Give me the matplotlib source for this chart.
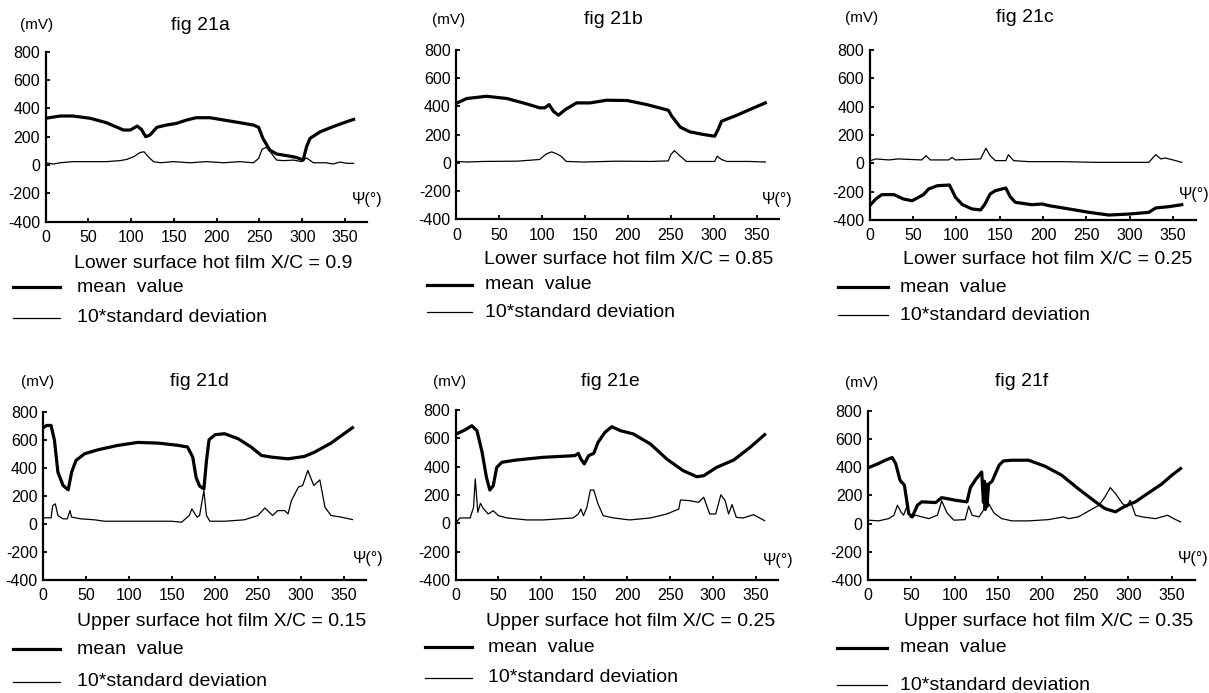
import matplotlib

matplotlib.use("Agg")
import matplotlib.pyplot as plt
from matplotlib.lines import Line2D

plt.rcParams["font.family"] = ["Liberation Sans", "DejaVu Sans"]
plt.rcParams["axes.unicode_minus"] = False

# ---- data (psi in degrees, signal in mV) ----
a_mean_psi = [0, 17, 32, 52, 71, 91, 99, 107, 112, 117, 122, 130, 141, 153, 165, 176, 192, 208, 227,
              243, 249, 254, 262, 270, 282, 293, 301, 305, 309, 321, 336, 352, 360]
a_mean_mv = [330, 346, 346, 330, 299, 247, 247, 275, 252, 200, 212, 266, 282, 294, 318, 334, 334, 318,
             299, 282, 266, 188, 106, 78, 66, 54, 35, 129, 188, 235, 271, 306, 322]
a_std_psi = [0, 9, 17, 32, 71, 87, 95, 103, 110, 115, 120, 126, 134, 149, 169, 188, 208, 227, 243, 249,
             253, 258, 264, 270, 278, 290, 299, 305, 313, 328, 336, 344, 352, 360]
a_std_mv = [16, 7, 16, 24, 24, 31, 40, 59, 87, 94, 59, 24, 16, 24, 16, 24, 16, 24, 16, 47, 111, 125, 82,
            35, 31, 35, 24, 50, 16, 16, 7, 21, 12, 12]

b_mean_psi = [1, 12, 35, 59, 82, 97, 103, 108, 113, 119, 127, 140, 156, 175, 199, 222, 247, 251, 261,
              272, 288, 301, 305, 309, 327, 342, 360]
b_mean_mv = [425, 456, 472, 456, 418, 390, 390, 413, 366, 338, 378, 425, 425, 444, 442, 413, 373, 331,
             253, 220, 201, 189, 236, 295, 338, 378, 425]
b_std_psi = [1, 12, 31, 71, 97, 105, 111, 117, 122, 128, 148, 187, 226, 247, 250, 254, 261, 268, 288,
             301, 304, 309, 315, 342, 360]
b_std_mv = [10, 6, 10, 12, 24, 64, 78, 64, 47, 10, 6, 12, 10, 14, 59, 87, 47, 10, 10, 10, 47, 24, 10,
            10, 6]

c_mean_psi = [1, 7, 14, 28, 39, 49, 62, 68, 78, 92, 99, 107, 118, 128, 133, 139, 145, 157, 162, 168,
              187, 199, 207, 230, 253, 276, 299, 322, 330, 345, 360]
c_mean_mv = [-292, -252, -221, -221, -252, -264, -221, -181, -158, -153, -240, -292, -322, -329, -287,
             -216, -193, -174, -235, -275, -292, -287, -299, -322, -346, -365, -358, -346, -315, -306,
             -292]
c_std_psi = [1, 7, 22, 33, 60, 65, 70, 91, 95, 99, 128, 134, 139, 145, 157, 160, 166, 183, 222, 260, 322,
             330, 336, 341, 353, 360]
c_std_mv = [19, 31, 24, 31, 24, 54, 24, 24, 42, 24, 31, 106, 54, 19, 19, 61, 19, 12, 12, 7, 7, 61, 31,
            38, 19, 7]

d_mean_psi = [1, 4, 9, 13, 17, 23, 29, 33, 38, 48, 64, 87, 110, 134, 157, 168, 174, 178, 182, 187, 190,
              193, 200, 211, 227, 242, 254, 266, 285, 304, 316, 335, 360]
d_mean_mv = [690, 702, 702, 595, 369, 274, 243, 369, 452, 500, 529, 560, 581, 576, 560, 548, 476, 330,
             270, 250, 450, 600, 636, 643, 607, 548, 488, 476, 464, 481, 512, 576, 686]
d_std_psi = [1, 9, 11, 14, 17, 23, 28, 31, 33, 44, 60, 71, 110, 149, 161, 170, 173, 179, 182, 185, 187,
             190, 194, 211, 234, 250, 258, 267, 273, 281, 285, 289, 297, 302, 308, 315, 322, 328, 335,
             347, 360]
d_std_mv = [43, 43, 131, 143, 60, 36, 36, 95, 48, 36, 29, 19, 19, 19, 12, 60, 107, 48, 60, 167, 238, 60,
            19, 19, 29, 60, 114, 60, 95, 95, 71, 167, 262, 274, 381, 274, 314, 119, 60, 48, 31]

e_mean_psi = [1, 11, 19, 25, 31, 36, 40, 44, 48, 54, 71, 102, 130, 139, 143, 146, 150, 155, 161, 166,
              174, 182, 192, 207, 227, 246, 265, 281, 289, 304, 324, 343, 360]
e_mean_mv = [631, 659, 689, 654, 501, 325, 235, 266, 395, 431, 447, 466, 475, 478, 494, 454, 419, 478,
             494, 572, 642, 682, 654, 631, 560, 454, 372, 329, 336, 395, 447, 536, 626]
e_std_psi = [1, 5, 17, 21, 23, 26, 29, 32, 38, 44, 50, 60, 83, 102, 137, 143, 146, 149, 153, 157, 161,
             166, 172, 184, 203, 227, 246, 260, 262, 273, 283, 289, 296, 303, 309, 314, 318, 322, 327,
             335, 347, 360]
e_std_mv = [7, 38, 38, 113, 313, 78, 141, 108, 66, 89, 54, 38, 24, 24, 38, 66, 101, 54, 113, 235, 235,
            136, 54, 38, 24, 38, 66, 101, 165, 160, 148, 184, 66, 66, 202, 160, 66, 132, 42, 38, 61, 19]

f_mean_psi = [1, 12, 20, 28, 32, 37, 42, 47, 51, 57, 62, 78, 85, 101, 114, 118, 124, 131, 133, 134, 135,
              136, 137, 139, 143, 151, 156, 166, 185, 204, 223, 242, 262, 273, 285, 296, 308, 322, 338,
              350, 360]
f_mean_mv = [397, 425, 449, 468, 425, 307, 272, 71, 47, 130, 154, 149, 184, 165, 154, 255, 312, 366,
             150, 300, 100, 280, 120, 280, 300, 413, 444, 449, 449, 406, 343, 248, 154, 106, 83, 123, 154,
             213, 279, 343, 390]
f_std_psi = [1, 12, 24, 30, 34, 38, 41, 45, 49, 55, 70, 80, 85, 91, 99, 112, 116, 120, 128, 133, 136,
             139, 145, 154, 166, 185, 208, 225, 231, 242, 256, 266, 273, 279, 285, 293, 298, 302, 308,
             316, 331, 345, 352, 360]
f_std_mv = [24, 19, 35, 59, 130, 83, 59, 123, 43, 59, 35, 59, 161, 76, 24, 28, 123, 59, 47, 95, 177, 142,
            76, 35, 19, 19, 28, 47, 35, 47, 95, 130, 189, 255, 213, 142, 118, 165, 59, 47, 35, 59, 35, 12]

fig_labels = ["fig 21a", "fig 21b", "fig 21c", "fig 21d", "fig 21e", "fig 21f"]
captions = ["Lower surface hot film X/C = 0.9", "Lower surface hot film X/C = 0.85",
            "Lower surface hot film X/C = 0.25", "Upper surface hot film X/C = 0.15",
            "Upper surface hot film X/C = 0.25", "Upper surface hot film X/C = 0.35"]
mean_psi = [a_mean_psi, b_mean_psi, c_mean_psi, d_mean_psi, e_mean_psi, f_mean_psi]
mean_mv = [a_mean_mv, b_mean_mv, c_mean_mv, d_mean_mv, e_mean_mv, f_mean_mv]
std_psi = [a_std_psi, b_std_psi, c_std_psi, d_std_psi, e_std_psi, f_std_psi]
std_mv = [a_std_mv, b_std_mv, c_std_mv, d_std_mv, e_std_mv, f_std_mv]

W, H = 1209, 693
fig = plt.figure(figsize=(W / 100, H / 100), dpi=100)


def fx(x):
    return x / W


def fy(y):
    return 1 - y / H


# layout in pixels of the source image
# axes box: left, top, right, bottom
boxes = [(45.6, 51.7, 367.3, 221.7), (456.4, 50, 779, 219.3), (869.7, 50, 1195.6, 220),
         (43.3, 411.7, 366.2, 580), (455.5, 410, 778.4, 580), (867.9, 410.7, 1194.5, 580)]
title_pos = [(200, 25), (613, 20), (1025, 18), (199, 382), (610, 382), (1022, 382)]
mv_pos = [(37, 25), (449, 20), (862, 18), (38, 382), (450, 382), (862, 383)]
caption_pos = [(213, 263), (629, 260), (1048, 260), (222, 622), (631, 622), (1049, 622)]
psi_pos = [(367, 200), (777, 200), (1194, 195), (368, 558), (778, 560), (1193, 558)]
# legend: line start, line end, text left, y mean, y std
legend_pos = [(13, 60, 77, 287, 318), (427, 472, 485, 285, 312), (838, 888, 900, 287, 315),
              (13, 60, 77, 649, 682), (425, 472, 488, 647, 678), (837, 887, 900, 648, 685)]

for i in range(6):
    l, t, r, b = boxes[i]
    ax = fig.add_axes([fx(l), fy(b), (r - l) / W, (b - t) / H])
    ax.plot(mean_psi[i], mean_mv[i], color="black", lw=2.3, solid_joinstyle="round")
    ax.plot(std_psi[i], std_mv[i], color="black", lw=0.9)
    ax.set_xlim(0, 376)
    ax.set_ylim(-400, 800)
    ax.set_xticks(range(0, 351, 50))
    ax.set_yticks(range(-400, 801, 200))
    for s in ["top", "right"]:
        ax.spines[s].set_visible(False)
    for s in ["left", "bottom"]:
        ax.spines[s].set_linewidth(1.6)
    ax.tick_params(direction="in", length=3, width=1.3, labelsize=11.5)
    ax.tick_params(axis="x", pad=6)
    ax.tick_params(axis="y", pad=4)
    ax.patch.set_alpha(0)

    fig.text(fx(title_pos[i][0]), fy(title_pos[i][1]), fig_labels[i], ha="center", va="center",
             fontsize=14)
    fig.text(fx(mv_pos[i][0]), fy(mv_pos[i][1]), "(mV)", ha="center", va="center", fontsize=11)
    fig.text(fx(caption_pos[i][0]), fy(caption_pos[i][1]), captions[i], ha="center", va="center",
             fontsize=14)
    fig.text(fx(psi_pos[i][0]), fy(psi_pos[i][1]), "Ψ(°)", ha="center", va="center", fontsize=11.5)

    x1, x2, xt, ym, ys = legend_pos[i]
    fig.add_artist(Line2D([fx(x1), fx(x2)], [fy(ym), fy(ym)], color="black", lw=2.3))
    fig.add_artist(Line2D([fx(x1), fx(x2)], [fy(ys), fy(ys)], color="black", lw=0.9))
    fig.text(fx(xt), fy(ym), "mean  value", ha="left", va="center", fontsize=14)
    fig.text(fx(xt), fy(ys), "10*standard deviation", ha="left", va="center", fontsize=14)

fig.savefig("out.png", dpi=100)
